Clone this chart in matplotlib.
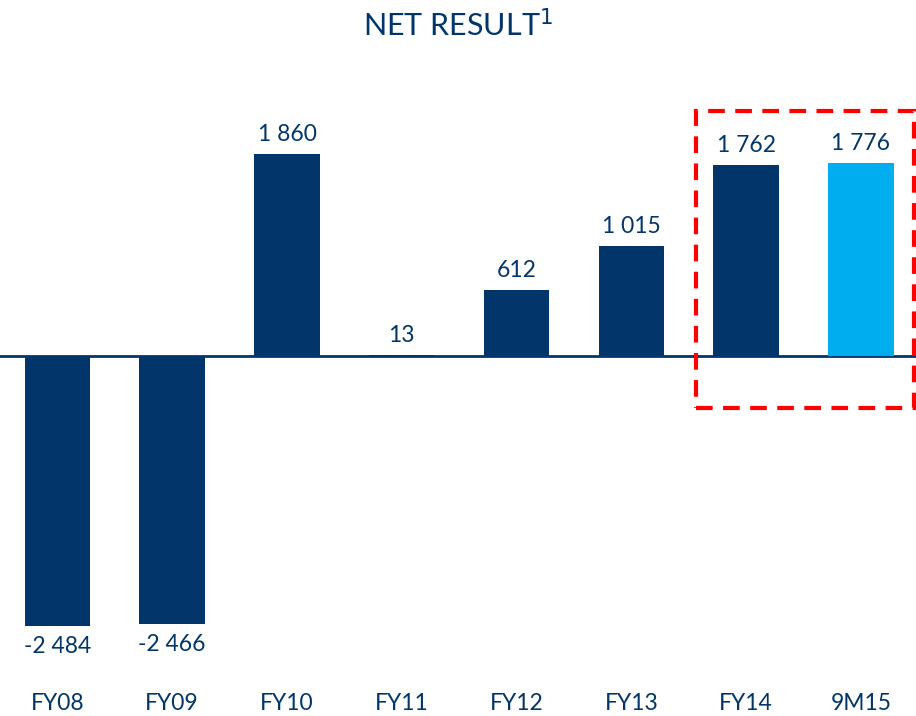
import matplotlib.pyplot as plt
import matplotlib.transforms as mtransforms
from matplotlib.patches import Rectangle

plt.rcParams['font.family'] = ['Lato', 'DejaVu Sans']

# Data
periods = ['FY08', 'FY09', 'FY10', 'FY11', 'FY12', 'FY13', 'FY14', '9M15']
net_result = [-2484, -2466, 1860, 13, 612, 1015, 1762, 1776]

navy = '#02366A'
light_blue = '#00ADEF'
colors = [navy] * 7 + [light_blue]

fig = plt.figure(figsize=(9.16, 7.16), dpi=100)
ax = fig.add_axes([0, 0.1061, 1, 0.7542])

x = range(len(periods))
ax.bar(x, net_result, width=0.57, color=colors, zorder=3)
ax.axhline(0, color=navy, lw=2, zorder=2)

ax.set_xlim(-0.5, 7.48)
ax.set_ylim(-2615, 2357)
ax.axis('off')

# value labels
for i, v in enumerate(net_result):
    txt = f'{v:,}'.replace(',', ' ')
    off = 14 if v >= 0 else -15
    ax.annotate(txt, (i, v), xytext=(0, off), textcoords='offset points',
                ha='center', va='center', fontsize=16.5, color=navy)

# category labels
trans = mtransforms.blended_transform_factory(ax.transData, fig.transFigure)
for i, p in enumerate(periods):
    ax.text(i, 1 - 703 / 716, p, transform=trans, ha='center', va='center',
            fontsize=16.5, color=navy)

# highlight box around FY14 / 9M15
box = Rectangle((5.56, -479), 1.9, 2256 + 479, fill=False, edgecolor='#FF0000',
                lw=3, linestyle=(0, (4, 2.5)), clip_on=False, zorder=4)
ax.add_patch(box)

fig.text(0.5, 1 - 25 / 716, 'NET RESULT$^1$', ha='center', va='center',
         fontsize=22, color=navy)

plt.savefig('out.png', dpi=100)
